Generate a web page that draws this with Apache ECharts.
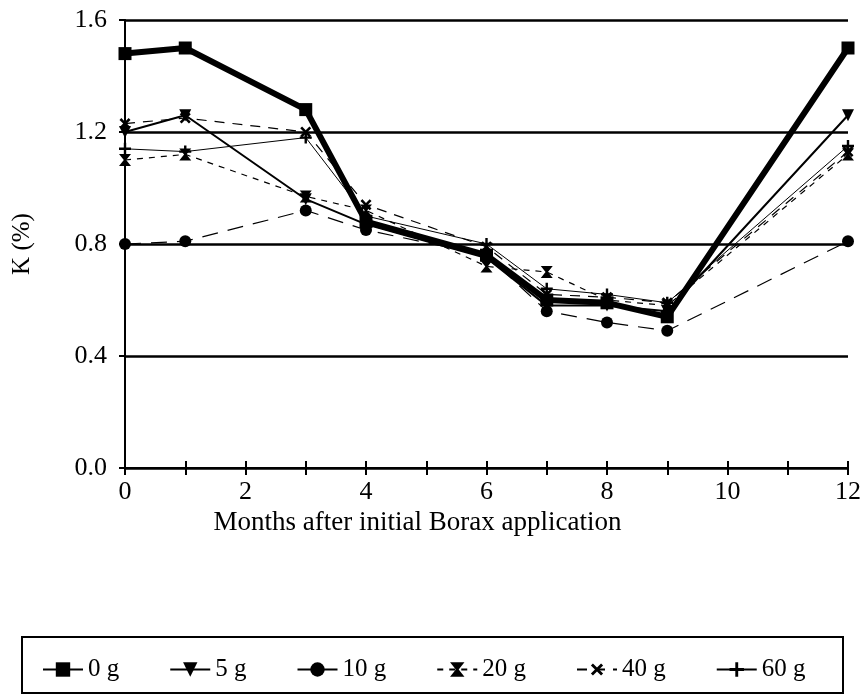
<!DOCTYPE html>
<html><head><meta charset="utf-8">
<script src="https://cdn.jsdelivr.net/npm/echarts@6/dist/echarts.min.js"></script>
<style>html,body{margin:0;padding:0;background:#fff}#c{width:864px;height:695px}</style>
</head><body><div id="c"></div>
<script>
const months = [0, 1, 3, 4, 6, 7, 8, 9, 12];
const seriesNames = ['0 g', '5 g', '10 g', '20 g', '40 g', '60 g'];
const k0g  = [1.48, 1.50, 1.28, 0.88, 0.76, 0.60, 0.59, 0.54, 1.50];
const k5g  = [1.20, 1.26, 0.96, 0.87, 0.75, 0.58, 0.58, 0.56, 1.26];
const k10g = [0.80, 0.81, 0.92, 0.85, 0.76, 0.56, 0.52, 0.49, 0.81];
const k20g = [1.10, 1.12, 0.97, 0.92, 0.72, 0.70, 0.60, 0.58, 1.12];
const k40g = [1.23, 1.25, 1.20, 0.94, 0.79, 0.62, 0.61, 0.59, 1.13];
const k60g = [1.14, 1.13, 1.18, 0.90, 0.80, 0.64, 0.62, 0.59, 1.15];
const yTicks = [0.0, 0.4, 0.8, 1.2, 1.6];

const FONT = 'Liberation Serif';
const pair = arr => months.map((m, i) => [m, arr[i]]);
const plusPath = 'path://M4,0 H6 V4 H10 V6 H6 V10 H4 V6 H0 V4 H4 Z';
const hourglass = 'path://M0,0 L10,0 L6,5 L10,10 L0,10 L4,5 Z';

function mk(name, data, lw, type, symbol, size, rot) {
  return {
    name, type: 'line', data: pair(data), symbol, symbolSize: size, symbolRotate: rot || 0,
    lineStyle: { color: '#000', width: lw, type },
    itemStyle: { color: '#000' }, z: lw > 3 ? 5 : 3
  };
}

const chart = echarts.init(document.getElementById('c'));
chart.setOption({
  backgroundColor: '#fff',
  animation: false,
  textStyle: { fontFamily: FONT, color: '#000' },
  grid: { left: 125, right: 14, top: 20, bottom: 227 },
  graphic: [{ type: 'rect', shape: { x: 22, y: 637, width: 821, height: 56 },
    style: { fill: 'none', stroke: '#000', lineWidth: 2 } }],
  legend: {
    data: seriesNames, left: 37, top: 652, itemWidth: 40, itemHeight: 18, itemGap: 50,
    textStyle: { fontFamily: FONT, fontSize: 25, color: '#000' }
  },
  xAxis: [{
    type: 'value', min: 0, max: 12, interval: 1,
    axisLine: { lineStyle: { color: '#000', width: 2 } },
    axisTick: { length: 7, lineStyle: { color: '#000', width: 2 } },
    axisLabel: { fontFamily: FONT, fontSize: 26, color: '#000', margin: 11,
      formatter: v => (v % 2 === 0 ? String(v) : '') },
    splitLine: { show: false },
    name: 'Months after initial Borax application', nameLocation: 'middle', nameGap: 40,
    nameTextStyle: { fontFamily: FONT, fontSize: 27, color: '#000', padding: [0, 138, 0, 0] }
  }, {
    type: 'value', min: 0, max: 12, interval: 1, position: 'bottom',
    axisLine: { show: false },
    axisTick: { inside: true, length: 7, lineStyle: { color: '#000', width: 2 } },
    axisLabel: { show: false }, splitLine: { show: false }
  }],
  yAxis: [{
    type: 'value', min: 0, max: 1.6, interval: 0.4,
    axisLine: { show: true, lineStyle: { color: '#000', width: 2 } },
    axisTick: { show: true, length: 6, lineStyle: { color: '#000', width: 2 } },
    axisLabel: { fontFamily: FONT, fontSize: 26, color: '#000', margin: 18,
      formatter: v => v.toFixed(1) },
    splitLine: { show: true, lineStyle: { color: '#000', width: 2.5 } },
    name: 'K (%)', nameLocation: 'middle', nameGap: 90, nameRotate: 90,
    nameTextStyle: { fontFamily: FONT, fontSize: 25, color: '#000' }
  }, {
    type: 'value', min: 0, max: 1.6, interval: 0.4, position: 'right',
    axisLine: { show: true, lineStyle: { color: '#000', width: 2 } },
    axisTick: { show: false }, axisLabel: { show: false }, splitLine: { show: false }
  }],
  series: [
    mk('0 g', k0g, 6, 'solid', 'rect', 13),
    mk('5 g', k5g, 2, 'solid', 'triangle', 12, 180),
    mk('10 g', k10g, 1.2, [16, 10], 'circle', 12),
    mk('20 g', k20g, 1.2, [6, 6], hourglass, 12),
    mk('40 g', k40g, 1.2, [10, 8], plusPath, 13, 45),
    mk('60 g', k60g, 1, 'solid', plusPath, 12)
  ]
});
</script></body></html>
